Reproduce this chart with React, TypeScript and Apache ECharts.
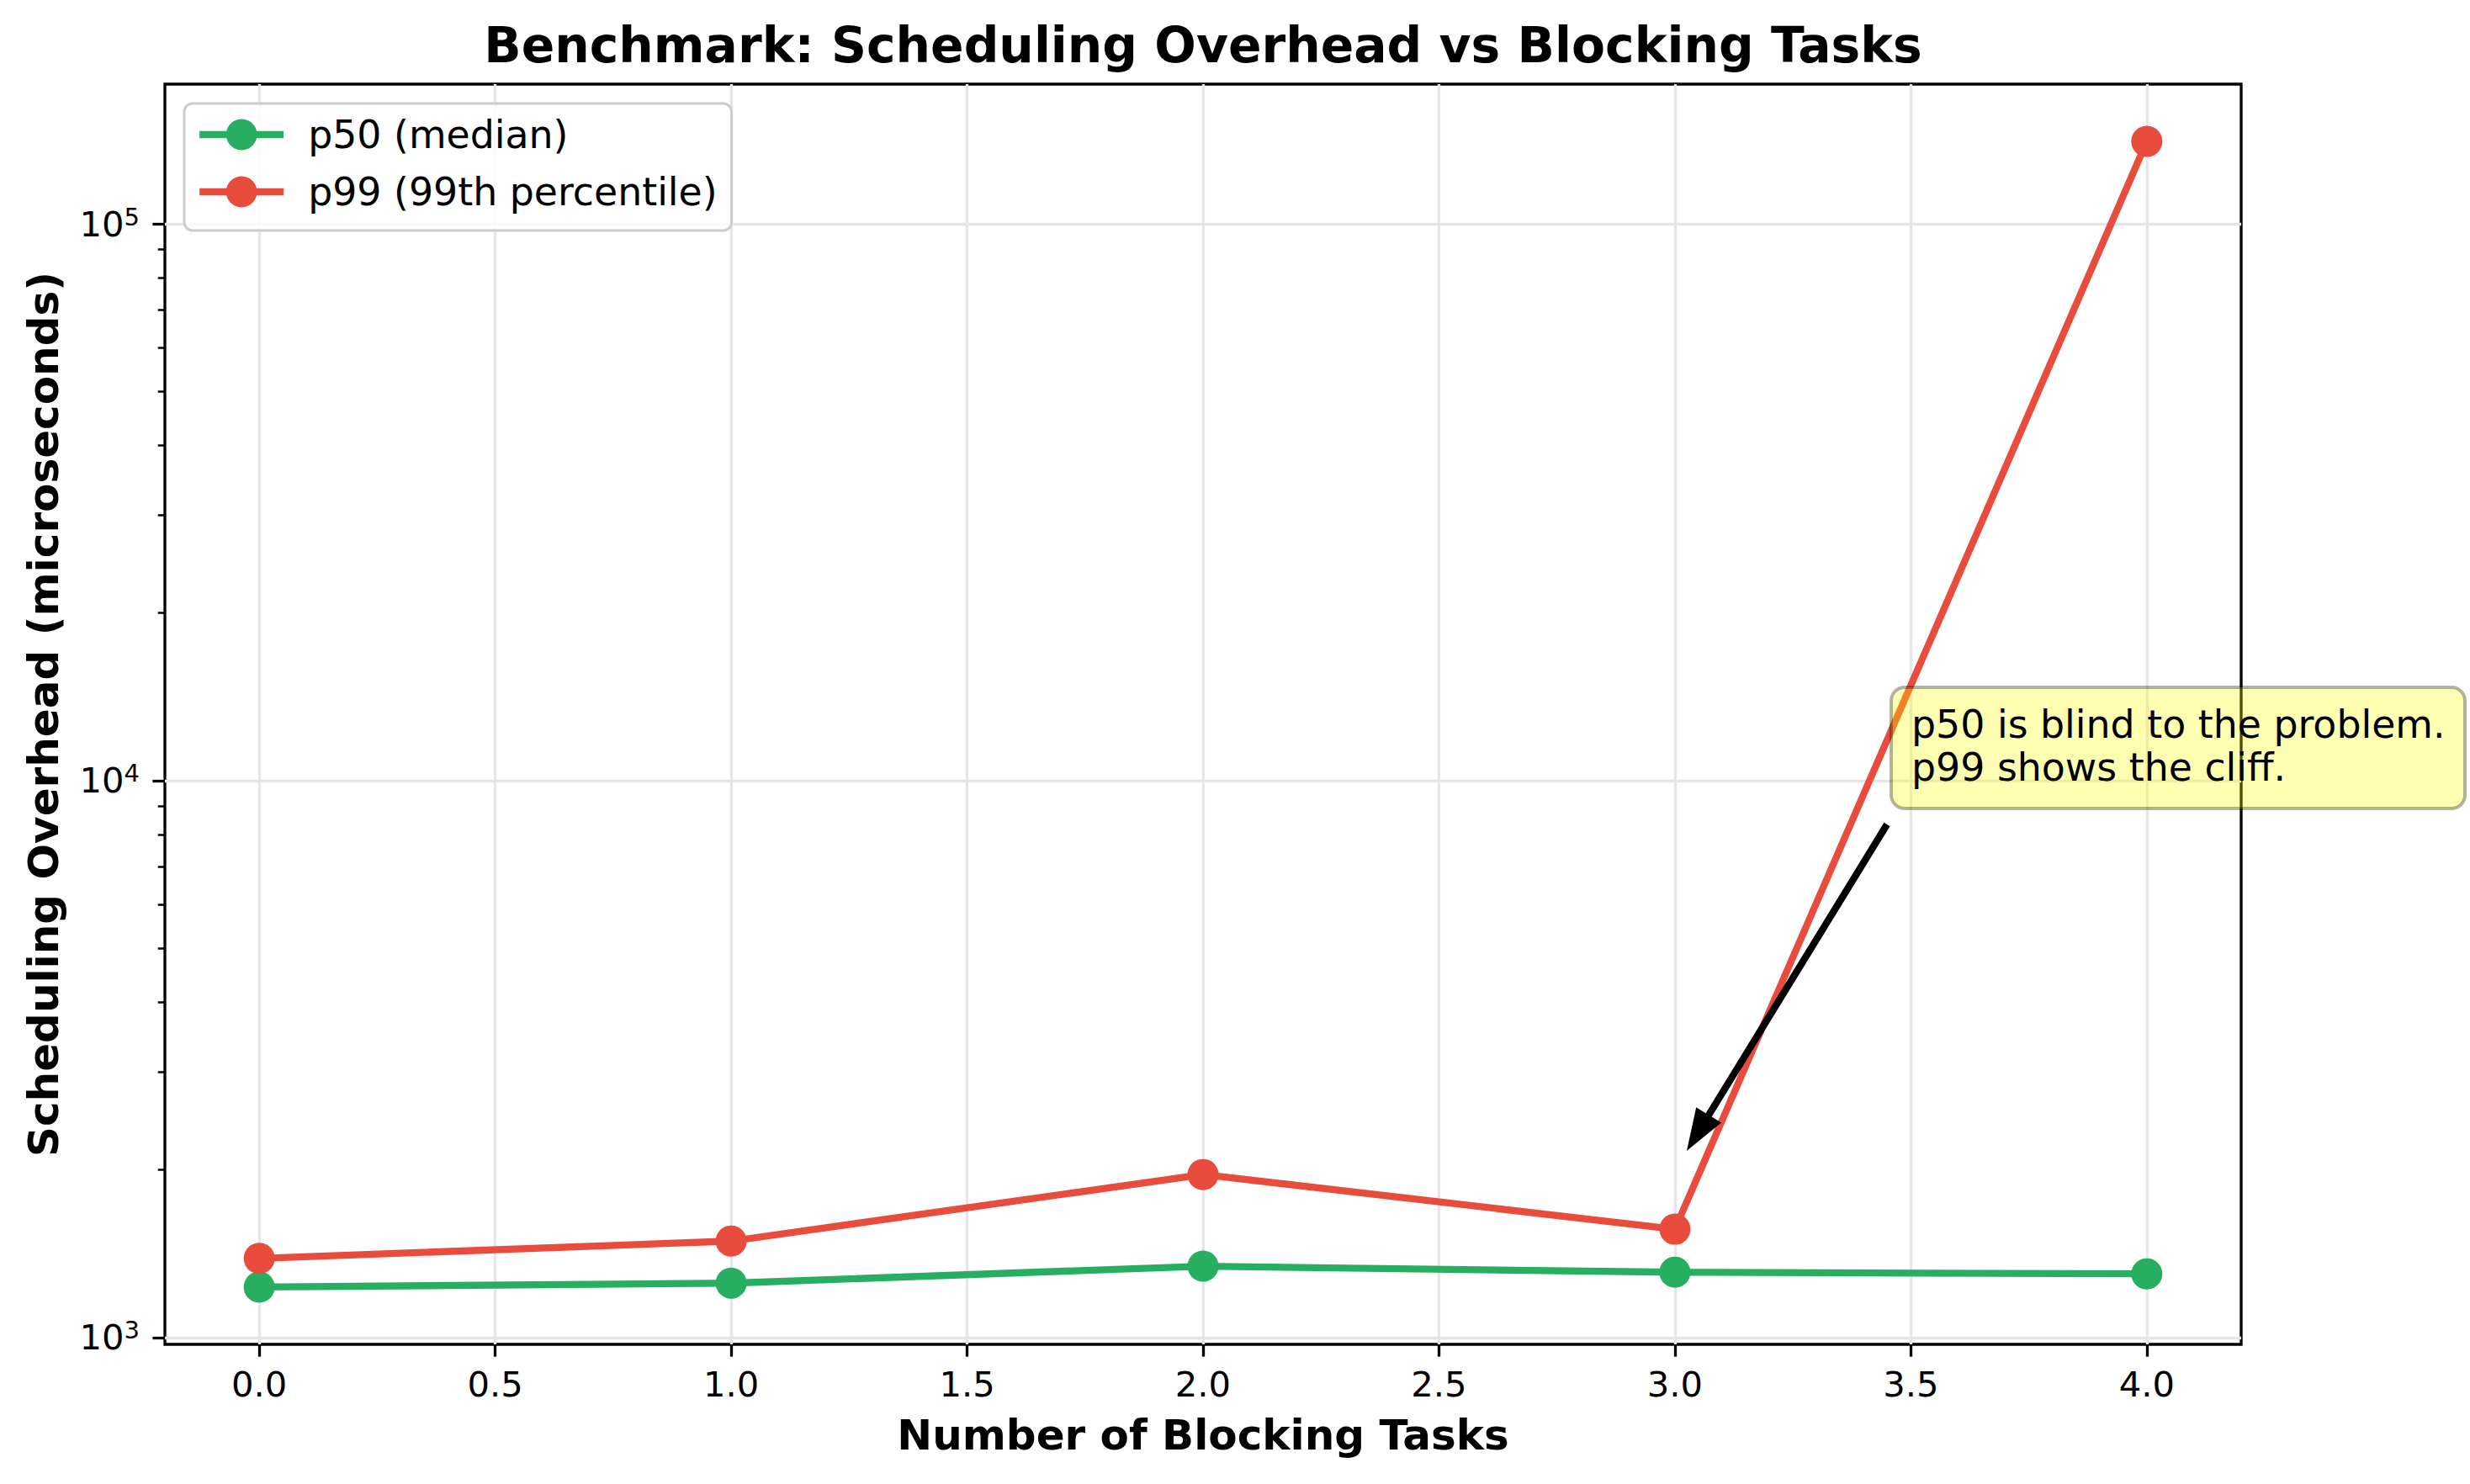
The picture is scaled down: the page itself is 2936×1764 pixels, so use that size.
import React, { useEffect, useRef } from "react";
import * as echarts from "echarts";

// Benchmark data (microseconds)
const blockingTasks = [0, 1, 2, 3, 4];
const p50Values = [1232, 1252, 1343, 1310, 1301];
const p99Values = [1387, 1490, 1962, 1565, 140600];

// axis ticks
const xTicks = [0, 0.5, 1, 1.5, 2, 2.5, 3, 3.5, 4];
const yMajorTicks = [1000, 10000, 100000];
const yMinorTicks = [2000, 3000, 4000, 5000, 6000, 7000, 8000, 9000, 20000, 30000, 40000, 50000, 60000, 70000, 80000, 90000];

const FONT = "DejaVu Sans";
const GREEN = "#27ae60";
const RED = "#e74c3c";

// arrow from the note box down to the p99 jump (pixels)
const arrowFrom = [2243, 980];
const arrowTo = [2005, 1368];

function arrowPolygon(from: number[], to: number[], shaft: number, headW: number, headL: number) {
  const dx = to[0] - from[0];
  const dy = to[1] - from[1];
  const len = Math.sqrt(dx * dx + dy * dy);
  const ux = dx / len, uy = dy / len;
  const px = -uy, py = ux;
  const bx = to[0] - ux * headL, by = to[1] - uy * headL;
  return [
    [from[0] + px * shaft / 2, from[1] + py * shaft / 2],
    [bx + px * shaft / 2, by + py * shaft / 2],
    [bx + px * headW / 2, by + py * headW / 2],
    [to[0], to[1]],
    [bx - px * headW / 2, by - py * headW / 2],
    [bx - px * shaft / 2, by - py * shaft / 2],
    [from[0] - px * shaft / 2, from[1] - py * shaft / 2],
  ];
}

const App: React.FC = () => {
  const chartRef = useRef<HTMLDivElement>(null);

  useEffect(() => {
    if (!chartRef.current) return;
    const chart = echarts.init(chartRef.current, null, { renderer: "svg" });

    const option = {
      animation: false,
      backgroundColor: "#ffffff",
      title: {
        text: "Benchmark: Scheduling Overhead vs Blocking Tasks",
        left: 1430,
        top: 25,
        textAlign: "center",
        padding: 0,
        textStyle: { fontFamily: FONT, fontSize: 58.3, fontWeight: "bold", color: "#000" },
      },
      legend: {
        orient: "vertical",
        left: 219,
        top: 123,
        padding: [14, 17, 23, 14],
        itemGap: 22,
        itemWidth: 100,
        itemHeight: 46,
        backgroundColor: "rgba(255,255,255,0.8)",
        borderColor: "#cccccc",
        borderWidth: 3,
        borderRadius: 10,
        lineStyle: { width: 8.3 },
        itemStyle: { borderWidth: 0 },
        textStyle: { fontFamily: FONT, fontSize: 45.8, color: "#000", lineHeight: 46, padding: [0, 0, 0, 24] },
        data: ["p50 (median)", "p99 (99th percentile)"],
      },
      grid: {
        left: 196,
        right: 272,
        top: 100,
        bottom: 166,
        show: true,
        borderColor: "#000",
        borderWidth: 3.3,
        backgroundColor: "transparent",
        outerBoundsMode: "none",
      },
      xAxis: {
        type: "value",
        min: -0.2,
        max: 4.2,
        name: "Number of Blocking Tasks",
        nameLocation: "middle",
        nameGap: 83,
        nameTextStyle: { fontFamily: FONT, fontSize: 50, fontWeight: "bold", color: "#000" },
        axisLine: { show: false, onZero: false },
        axisTick: { show: true, length: 14.6, lineStyle: { color: "#000", width: 3.3 }, customValues: xTicks },
        axisLabel: {
          customValues: xTicks,
          margin: 26,
          fontFamily: FONT,
          fontSize: 41.7,
          color: "#000",
          formatter: (v: number) => v.toFixed(1),
        },
        splitLine: { show: true, lineStyle: { color: "#e6e6e6", width: 3.3 } },
      },
      yAxis: [
        {
          type: "log",
          logBase: 10,
          position: "left",
          min: 972.1,
          max: 178200,
          name: "Scheduling Overhead (microseconds)",
          nameLocation: "middle",
          nameGap: 119,
          nameTextStyle: { fontFamily: FONT, fontSize: 50, fontWeight: "bold", color: "#000" },
          axisLine: { show: false, onZero: false },
          axisTick: { show: true, length: 14.6, lineStyle: { color: "#000", width: 3.3 }, customValues: yMajorTicks },
          axisLabel: {
            customValues: yMajorTicks,
            margin: 30,
            color: "#000",
            formatter: (v: number) => `{b|10}{s|${Math.round(Math.log10(v))}}`,
            rich: {
              b: { fontFamily: FONT, fontSize: 41.7, lineHeight: 46, color: "#000" },
              s: { fontFamily: FONT, fontSize: 29, lineHeight: 29, verticalAlign: "top", color: "#000" },
            },
          },
          splitLine: { show: true, lineStyle: { color: "#e6e6e6", width: 3.3 } },
        },
        {
          type: "log",
          logBase: 10,
          position: "left",
          offset: 0,
          min: 972.1,
          max: 178200,
          axisLine: { show: false, onZero: false },
          axisLabel: { show: false },
          splitLine: { show: false },
          axisTick: { show: true, length: 8.3, lineStyle: { color: "#000", width: 2.5 }, customValues: yMinorTicks },
        },
      ],
      series: [
        {
          name: "p50 (median)",
          type: "line",
          yAxisIndex: 0,
          data: blockingTasks.map((x, i) => [x, p50Values[i]]),
          symbol: "circle",
          symbolSize: 37,
          color: GREEN,
          itemStyle: { color: GREEN },
          lineStyle: { color: GREEN, width: 8.3 },
          z: 3,
        },
        {
          name: "p99 (99th percentile)",
          type: "line",
          yAxisIndex: 0,
          data: blockingTasks.map((x, i) => [x, p99Values[i]]),
          symbol: "circle",
          symbolSize: 37,
          color: RED,
          itemStyle: { color: RED },
          lineStyle: { color: RED, width: 8.3 },
          z: 4,
        },
      ],
      graphic: [
        {
          type: "polygon",
          z: 100,
          shape: { points: arrowPolygon(arrowFrom, arrowTo, 8.3, 35, 50) },
          style: { fill: "#000" },
        },
        {
          type: "rect",
          z: 101,
          shape: { x: 2248, y: 817, width: 682, height: 144, r: 16 },
          style: { fill: "rgba(255,255,0,0.3)", stroke: "rgba(0,0,0,0.3)", lineWidth: 4 },
        },
        {
          type: "text",
          z: 102,
          x: 2272,
          y: 861,
          style: { text: "p50 is blind to the problem.", fontFamily: FONT, fontSize: 45.8, fill: "#000", verticalAlign: "middle" },
        },
        {
          type: "text",
          z: 102,
          x: 2272,
          y: 912,
          style: { text: "p99 shows the cliff.", fontFamily: FONT, fontSize: 45.8, fill: "#000", verticalAlign: "middle" },
        },
      ],
    };

    chart.setOption(option as any);

    return () => {
      chart.dispose();
    };
  }, []);

  return <div ref={chartRef} style={{ position: "fixed", left: 0, top: 0, width: 2936, height: 1764 }} />;
};

export default App;
